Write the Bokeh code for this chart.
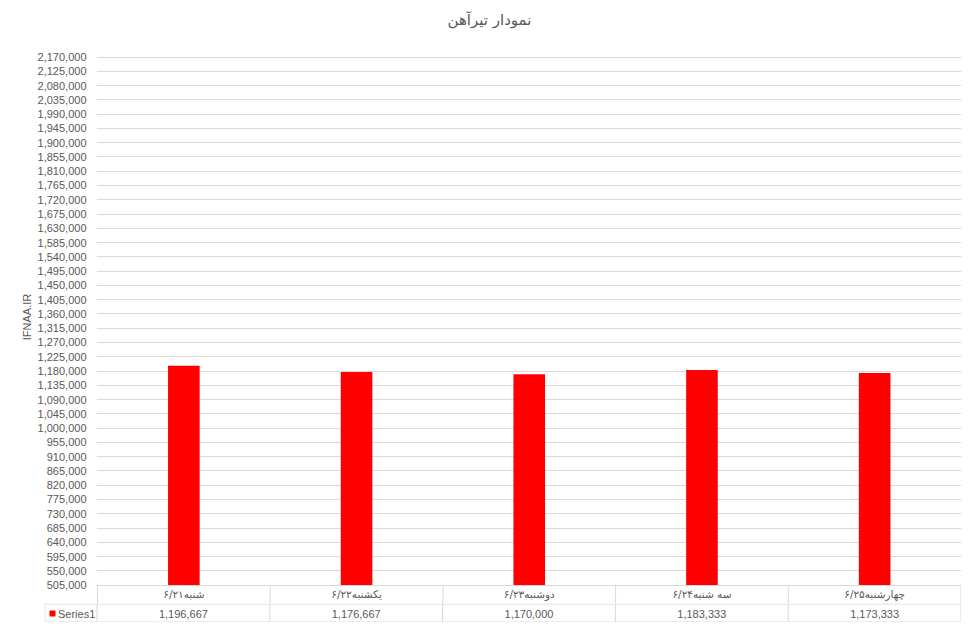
import numpy as np
from bokeh.plotting import figure
from bokeh.layouts import column
from bokeh.models import (FixedTicker, NumeralTickFormatter, Range1d,
                          ColumnDataSource)
from bokeh.core.properties import value
from bokeh.embed import file_html
from bokeh.resources import INLINE

# ---------------- data ----------------
title_text = "نمودار تیرآهن"
axis_title = "IFNAA.IR"
series_name = "Series1"
categories = ["شنبه۶/۲۱", "یکشنبه۶/۲۲", "دوشنبه۶/۲۳", "سه شنبه۶/۲۴", "چهارشنبه۶/۲۵"]
values = [1196667, 1176667, 1170000, 1183333, 1173333]
y_min = 505000
y_max = 2170000
y_step = 45000
y_ticks = list(range(y_min, y_max + 1, y_step))

# ---------------- layout (pixels) ----------------
W = 961
H1, H2 = 603, 19
GRID = "#d9d9d9"
TXT = "#595959"
RED = "#ff0000"

Y_TOP_PX, Y_BOT_PX = 56.5, 584.6      # pixel rows of y_max / y_min
FRAME_TOP = 30
X0_PX, CAT_PX = 96.5, 172.8           # pixel col of category edge 0, width of a category
FRAME_LEFT, FRAME_RIGHT = 95.5, 961.0
S = (Y_BOT_PX - Y_TOP_PX) / (y_max - y_min)


def dy(py):
    return y_min - (py - Y_BOT_PX) / S


def dx(px):
    return (px - X0_PX) / CAT_PX


n = len(categories)
xs = np.arange(n) + 0.5
src = dict(x=xs, top=values, cat=categories, val=[f"{v:,}" for v in values])

# ---------------- main chart ----------------
p = figure(width=W, height=H1, output_backend="svg", toolbar_location=None,
           x_axis_location=None,
           x_range=Range1d(dx(FRAME_LEFT), dx(FRAME_RIGHT)),
           y_range=Range1d(dy(H1), dy(FRAME_TOP)),
           min_border_left=int(round(FRAME_LEFT)), min_border_right=0,
           min_border_top=FRAME_TOP, min_border_bottom=0,
           frame_align=False)
p.outline_line_color = None
p.background_fill_color = "white"
p.border_fill_color = "white"

p.title.text = title_text
p.title.align = "left"
p.title.offset = 351
p.title.standoff = 4
p.title.text_font = "DejaVu Sans"
p.title.text_font_size = "15px"
p.title.text_font_style = "normal"
p.title.text_color = TXT

p.xgrid.visible = False
p.ygrid.ticker = FixedTicker(ticks=y_ticks)
p.ygrid.grid_line_color = GRID

ax = p.yaxis[0]
ax.ticker = FixedTicker(ticks=y_ticks)
ax.formatter = NumeralTickFormatter(format="0,0")
ax.axis_line_color = None
ax.major_tick_line_color = None
ax.minor_tick_line_color = None
ax.major_tick_out = 0
ax.major_tick_in = 0
ax.major_label_standoff = 10
ax.major_label_text_font = "Liberation Sans"
ax.major_label_text_font_size = "11px"
ax.major_label_text_color = TXT
ax.axis_label = axis_title
ax.axis_label_standoff = 2
ax.axis_label_text_font = "Liberation Sans"
ax.axis_label_text_font_size = "11px"
ax.axis_label_text_font_style = "normal"
ax.axis_label_text_color = TXT

s1 = ColumnDataSource(src)
p.vbar(x="x", top="top", bottom=y_min, width=0.183, source=s1,
       fill_color=RED, line_color=None)

# first row of the data table (category names)
p.segment(x0=list(range(n + 1)), x1=list(range(n + 1)),
          y0=[dy(H1)] * (n + 1), y1=[y_min] * (n + 1),
          line_color=GRID, line_width=1)
p.text(x="x", y=dy(593.5), text="cat", source=s1, text_align="center",
       text_baseline="middle", text_font=value("DejaVu Sans"),
       text_font_size="10.5px", text_color=TXT)

# ---------------- second row of the data table (values + legend key) ----------------
LEG_LEFT = 44.5
T_LEFT = 44
t = figure(width=W, height=H2, output_backend="svg", toolbar_location=None,
           x_axis_location=None, y_axis_location=None,
           x_range=Range1d(dx(T_LEFT), dx(FRAME_RIGHT)),
           y_range=Range1d(H2, 0),
           min_border_left=T_LEFT, min_border_right=0,
           min_border_top=0, min_border_bottom=0,
           frame_align=False)
t.title.visible = False
t.outline_line_color = None
t.grid.visible = False
t.background_fill_color = "white"
t.border_fill_color = "white"

s2 = ColumnDataSource(src)
xl = dx(LEG_LEFT)
t.segment(x0=[xl, xl], x1=[n, n], y0=[0.5, H2 - 0.5], y1=[0.5, H2 - 0.5],
          line_color=GRID, line_width=1)
t.segment(x0=[xl] + list(range(n + 1)), x1=[xl] + list(range(n + 1)),
          y0=[0] * (n + 2), y1=[H2] * (n + 2), line_color=GRID, line_width=1)
t.text(x="x", y=H2 / 2 + 0.5, text="val", source=s2, text_align="center",
       text_baseline="middle", text_font=value("Liberation Sans"),
       text_font_size="11px", text_color=TXT)

# legend key: red square + series name
t.scatter(x=[dx(52)], y=[H2 / 2 + 0.5], marker="square", size=6,
          fill_color=RED, line_color=None)
t.text(x=[dx(57.5)], y=[H2 / 2 + 0.5], text=[series_name], text_align="left",
       text_baseline="middle", text_font=value("Liberation Sans"),
       text_font_size="11px", text_color=TXT)

layout = column(p, t, spacing=0)
open("out.html", "w").write(file_html(layout, INLINE))
